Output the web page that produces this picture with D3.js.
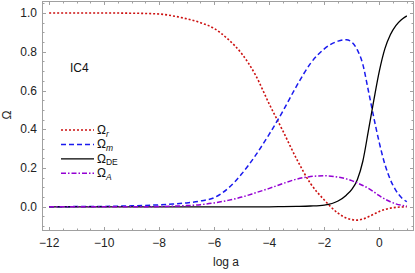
<!DOCTYPE html>
<html><head><meta charset="utf-8">
<script src="https://cdn.jsdelivr.net/npm/d3@7"></script>
<style>html,body{margin:0;padding:0;background:#fff;}svg{display:block;}</style>
</head><body><svg id="c" width="415" height="273"></svg>
<script>
const logA = [-12,-11,-10,-9,-8,-7.5,-7,-6.5,-6,-5.5,-5,-4.5,-4,-3.5,-3,-2.5,-2,-1.5,-1.2,-1,-0.8,-0.6,-0.4,-0.2,0,0.2,0.4,0.6,0.8,1.0];
const omegaR = [1,1,1,0.999,0.995,0.985,0.97,0.95,0.92,0.865,0.79,0.68,0.53,0.39,0.245,0.12,0.035,-0.033,-0.058,-0.066,-0.069,-0.063,-0.052,-0.038,-0.024,-0.014,-0.007,-0.003,-0.001,0.0];
const omegaM = [0,0.001,0.002,0.005,0.01,0.014,0.02,0.03,0.047,0.095,0.17,0.265,0.375,0.495,0.625,0.74,0.815,0.855,0.862,0.85,0.81,0.735,0.6,0.46,0.33,0.22,0.14,0.085,0.048,0.026];
const omegaDE = [0,0,0,0,0,0,0,0,0,0,0,0,0,0.001,0.002,0.004,0.009,0.03,0.06,0.09,0.14,0.235,0.39,0.55,0.7,0.815,0.888,0.935,0.965,0.985];
const omegaA = [0,0,0,0,0.001,0.003,0.006,0.011,0.02,0.033,0.05,0.072,0.095,0.12,0.143,0.156,0.16,0.153,0.144,0.135,0.123,0.11,0.095,0.077,0.057,0.04,0.026,0.015,0.008,0.004];
const xMajor = [-12,-10,-8,-6,-4,-2,0];
const yMajor = [0.0,0.2,0.4,0.6,0.8,1.0];

const svg = d3.select("#c");
const L=42,R=414,T=1,B=231;
const x = d3.scaleLinear().domain([-12.26,1.26]).range([L,R]);
const y = d3.scaleLinear().domain([-0.125,1.062]).range([B,T]);
const frameCol="#a0a0a0", font="Liberation Sans, Arial, sans-serif";

svg.append("defs").append("clipPath").attr("id","cp").append("rect")
  .attr("x",L).attr("y",T).attr("width",R-L).attr("height",B-T);

// frame
svg.append("rect").attr("x",L+0.5).attr("y",T+0.5).attr("width",R-L-1).attr("height",B-T-1)
  .attr("fill","none").attr("stroke",frameCol).attr("stroke-width",1);

const xMinor = d3.range(-12,1.01,0.5).filter(v=>!xMajor.includes(v));
const yMinor = d3.range(-0.1,1.051,0.05).map(v=>+v.toFixed(2)).filter(v=>!yMajor.some(m=>Math.abs(m-v)<1e-6));
const tg = svg.append("g").attr("stroke",frameCol).attr("stroke-width",1);
function xt(v,len){const px=Math.round(x(v))+0.5;
  tg.append("line").attr("x1",px).attr("x2",px).attr("y1",B).attr("y2",B-len);
  tg.append("line").attr("x1",px).attr("x2",px).attr("y1",T).attr("y2",T+len);}
function yt(v,len){const py=Math.round(y(v))+0.5;
  tg.append("line").attr("x1",L).attr("x2",L+len).attr("y1",py).attr("y2",py);
  tg.append("line").attr("x1",R).attr("x2",R-len).attr("y1",py).attr("y2",py);}
xMajor.forEach(v=>xt(v,4)); xMinor.forEach(v=>xt(v,2.5));
yMajor.forEach(v=>yt(v,4)); yMinor.forEach(v=>yt(v,2.5));

// tick labels
svg.append("g").selectAll("text").data(xMajor).join("text")
  .attr("x",d=>x(d)).attr("y",B+16).attr("text-anchor","middle")
  .attr("font-family",font).attr("font-size",12).attr("fill","#222")
  .text(d=>d3.format("")(d).replace("-","\u2212"));
svg.append("g").selectAll("text").data(yMajor).join("text")
  .attr("x",L-5).attr("y",d=>y(d)+4.2).attr("text-anchor","end")
  .attr("font-family",font).attr("font-size",12).attr("fill","#222")
  .text(d=>d3.format(".1f")(d));

// axis labels
svg.append("text").attr("x",226).attr("y",266).attr("text-anchor","middle")
  .attr("font-family",font).attr("font-size",12).attr("fill","#222").text("log a");
svg.append("text").attr("transform","translate(11,115) rotate(-90)").attr("text-anchor","middle")
  .attr("font-family",font).attr("font-size",12).attr("fill","#222").text("Ω");

svg.append("text").attr("x",70).attr("y",72).attr("font-family",font).attr("font-size",12)
  .attr("fill","#111").text("IC4");

// series
const series = [
  {vals:omegaR, color:"#cc1111", dash:"2,2", w:1.6},
  {vals:omegaM, color:"#1a1aee", dash:"5,3", w:1.5},
  {vals:omegaDE, color:"#000000", dash:null, w:1.3},
  {vals:omegaA, color:"#9400d3", dash:"5,2,1.5,2", w:1.5}
];
const line = d3.line().x(d=>x(d[0])).y(d=>y(d[1])).curve(d3.curveMonotoneX);
const pg = svg.append("g").attr("clip-path","url(#cp)");
series.forEach(s=>{
  pg.append("path").datum(logA.map((a,i)=>[a,s.vals[i]]))
    .attr("d",line).attr("fill","none").attr("stroke",s.color)
    .attr("stroke-width",s.w).attr("stroke-dasharray",s.dash);
});

// legend
const labels=[["r",true],["m",true],["DE",false],["A",true]];
const lg = svg.append("g");
series.forEach((s,i)=>{
  const yy=130+i*14.4;
  lg.append("line").attr("x1",61).attr("x2",94).attr("y1",yy).attr("y2",yy)
    .attr("stroke",s.color).attr("stroke-width",s.w).attr("stroke-dasharray",s.dash);
  const t=lg.append("text").attr("x",97).attr("y",yy+4).attr("font-family",font)
    .attr("font-size",12).attr("fill","#111");
  t.append("tspan").text("Ω");
  t.append("tspan").attr("dy",2.5).attr("font-size",8.5)
    .attr("font-style",labels[i][1]?"italic":"normal").text(labels[i][0]);
});
</script></body></html>
